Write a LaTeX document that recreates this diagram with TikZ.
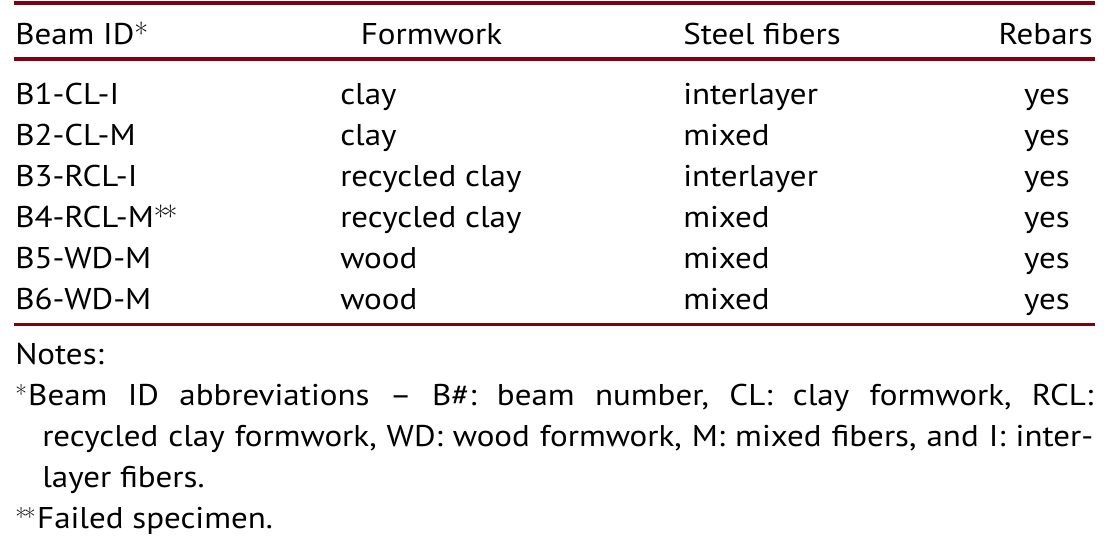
\documentclass[tikz,border=0pt]{standalone}
\usepackage{fontspec}
\setmainfont[FakeStretch=1.1]{PT Sans}
\usetikzlibrary{positioning}
\definecolor{ruleRed}{RGB}{128,0,18}
\newcommand{\hstar}{{\fontfamily{lmr}\selectfont *}}
\newcommand{\nstar}{{\fontfamily{lmr}\fontsize{19pt}{19pt}\selectfont\raisebox{1.5pt}{*}}}
\frenchspacing

\begin{document}
\begin{tikzpicture}[x=0.75pt,y=0.75pt,yscale=-1,xscale=1,
  every node/.style={inner sep=0pt,font=\fontsize{22.5pt}{30pt}\selectfont},
  cell/.style={anchor=base west},
  mid/.style={anchor=base},
  tabrule/.style={color=ruleRed,line width=2.6pt}]
\useasboundingbox (0,0) rectangle (1117,557);

%Straight Lines [id:top rule]
\draw [tabrule]  (14,3) -- (1095,3) ;
%Straight Lines [id:head rule]
\draw [tabrule]  (14,59) -- (1095,59) ;
%Straight Lines [id:bottom rule]
\draw [tabrule]  (14,324.5) -- (1095,324.5) ;

% Header
\node (hid) [cell] at (15,44) {Beam ID\hstar};
\node (hform) [mid] at (431.5,44) {Formwork};
\node (hfib) [cell] at (683,44) {Steel fibers};
\node (hbar) [anchor=base east] at (1093,44) {Rebars};

% Row 1
\node (id1) [cell] at (15,104) {B1-CL-I};
\node (form1) [cell] at (340,104) {clay};
\node (fib1) [cell] at (683,104) {interlayer};
\node (bar1) [mid] at (1047,104) {yes};
% Row 2
\node (id2) [cell] at (15,145) {B2-CL-M};
\node (form2) [cell] at (340,145) {clay};
\node (fib2) [cell] at (683,145) {mixed};
\node (bar2) [mid] at (1047,145) {yes};
% Row 3
\node (id3) [cell] at (15,186) {B3-RCL-I};
\node (form3) [cell] at (340,186) {recycled clay};
\node (fib3) [cell] at (683,186) {interlayer};
\node (bar3) [mid] at (1047,186) {yes};
% Row 4
\node (id4) [cell] at (15,227) {B4-RCL-M\hstar\kern-3pt\hstar};
\node (form4) [cell] at (340,227) {recycled clay};
\node (fib4) [cell] at (683,227) {mixed};
\node (bar4) [mid] at (1047,227) {yes};
% Row 5
\node (id5) [cell] at (15,268) {B5-WD-M};
\node (form5) [cell] at (340,268) {wood};
\node (fib5) [cell] at (683,268) {mixed};
\node (bar5) [mid] at (1047,268) {yes};
% Row 6
\node (id6) [cell] at (15,309) {B6-WD-M};
\node (form6) [cell] at (340,309) {wood};
\node (fib6) [cell] at (683,309) {mixed};
\node (bar6) [mid] at (1047,309) {yes};

% Notes
\node (notes) [cell] at (15,364) {Notes:};
\node (note1) [cell] at (15,405) {\makebox[808.5pt][s]{\nstar\kern1pt Beam ID abbreviations – B\#: beam number, CL: clay formwork, RCL:}};
\node (note2) [cell] at (42,446) {\makebox[788.25pt][s]{recycled clay formwork, WD: wood formwork, M: mixed fibers, and I: inter-}};
\node (note3) [cell] at (42,487) {layer fibers.};
\node (note4) [cell] at (15,528) {\nstar\kern-2pt\nstar\kern1pt Failed specimen.};

\end{tikzpicture}
\end{document}
